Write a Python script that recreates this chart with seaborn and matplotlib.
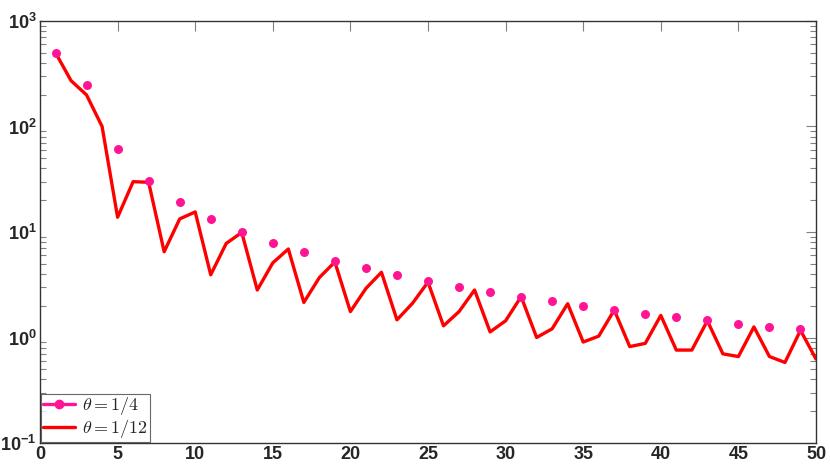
import numpy as np
import pandas as pd
import seaborn as sns
import matplotlib
matplotlib.use("Agg")
import matplotlib.pyplot as plt
from matplotlib.lines import Line2D
from matplotlib.ticker import LogLocator, FixedLocator, NullFormatter

# --- data ---
x_quarter = [1, 3, 5, 7, 9, 11, 13, 15, 17, 19, 21, 23, 25, 27, 29, 31, 33, 35,
             37, 39, 41, 43, 45, 47, 49]
y_quarter = [500, 250, 61, 30.6, 19.1, 13.4, 10.1, 7.9, 6.4, 5.35, 4.53, 3.9,
             3.43, 3.01, 2.7, 2.44, 2.2, 2.0, 1.83, 1.67, 1.55, 1.45, 1.35,
             1.25, 1.2]

x_twelfth = list(range(1, 51))
y_twelfth = [500, 272, 199, 100, 13.8, 30, 29.6, 6.5, 13.3, 15.5,
             3.93, 7.8, 9.9, 2.82, 5.1, 6.9, 2.15, 3.7, 5.2, 1.76,
             2.92, 4.15, 1.47, 2.11, 3.35, 1.29, 1.76, 2.82, 1.13, 1.44,
             2.44, 1.0, 1.21, 2.09, 0.906, 1.03, 1.82, 0.82, 0.88, 1.62,
             0.76, 0.76, 1.44, 0.70, 0.66, 1.26, 0.66, 0.58, 1.17, 0.625]

labels = [r"$\theta = 1/4$", r"$\theta = 1/12$"]
x_ticks = [0, 5, 10, 15, 20, 25, 30, 35, 40, 45, 50]

pink = "#FF1493"
red = "#FF0000"

sns.set_theme(style="white")
plt.rcParams["font.family"] = ["Liberation Sans", "DejaVu Sans"]
plt.rcParams["mathtext.fontset"] = "cm"

df_q = pd.DataFrame({"x": x_quarter, "y": y_quarter})
df_t = pd.DataFrame({"x": x_twelfth, "y": y_twelfth})

fig = plt.figure(figsize=(8.3, 4.67), dpi=100)
ax = fig.add_axes([40 / 830, 24 / 467, 776 / 830, 422 / 467])

sns.lineplot(data=df_t, x="x", y="y", ax=ax, color=red, linewidth=2.4,
             zorder=2)
sns.scatterplot(data=df_q, x="x", y="y", ax=ax, color=pink, s=42,
                edgecolor=pink, linewidth=0, zorder=3)

ax.set_yscale("log")
ax.set_xlim(0, 50)
ax.set_ylim(0.1, 1000)
ax.set_xlabel("")
ax.set_ylabel("")

ax.xaxis.set_major_locator(FixedLocator(x_ticks))
ax.set_xticklabels([str(t) for t in x_ticks])
ax.yaxis.set_major_locator(LogLocator(base=10, numticks=10))
ax.yaxis.set_minor_locator(LogLocator(base=10, subs=np.arange(2, 10), numticks=10))
ax.yaxis.set_minor_formatter(NullFormatter())

ax.tick_params(axis="both", which="major", direction="in", length=7,
               width=0.8, color="#808080", top=True, right=True,
               labelsize=13, pad=2.5)
ax.tick_params(axis="y", which="minor", direction="in", length=4,
               width=0.8, color="#808080", left=True, right=True)
for lab in ax.get_xticklabels() + ax.get_yticklabels():
    lab.set_fontweight("bold")

for sp in ax.spines.values():
    sp.set_color("#333333")
    sp.set_linewidth(1.0)

handles = [
    Line2D([0], [0], color=pink, linewidth=2.4, marker="o", markersize=6,
           markeredgecolor=pink),
    Line2D([0], [0], color=red, linewidth=2.4),
]
leg = ax.legend(handles, labels, loc="lower left", fontsize=13,
                frameon=True, fancybox=False, borderpad=0.1,
                handlelength=1.8, handletextpad=0.4, labelspacing=0.05,
                borderaxespad=0.05)
leg.get_frame().set_edgecolor("#444444")
leg.get_frame().set_linewidth(0.8)

fig.savefig("out.png", dpi=100)
